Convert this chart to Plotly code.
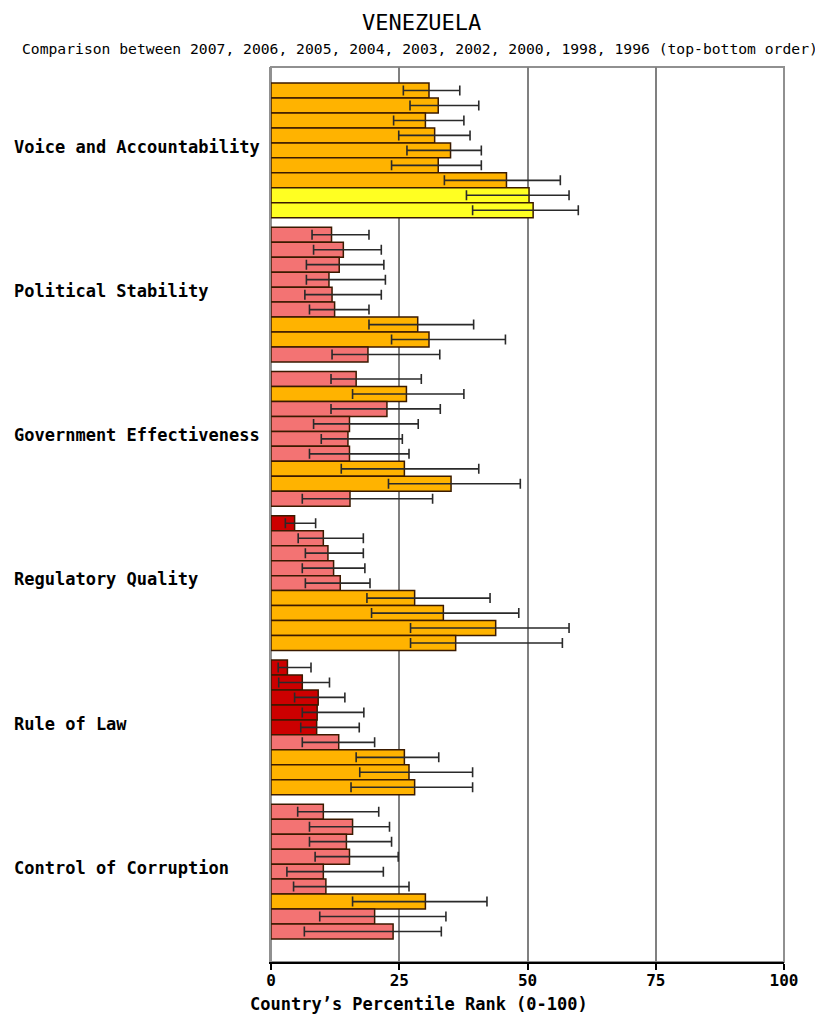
import plotly.graph_objects as go

categories = ["Voice and Accountability", "Political Stability", "Government Effectiveness",
              "Regulatory Quality", "Rule of Law", "Control of Corruption"]
years = [2007, 2006, 2005, 2004, 2003, 2002, 2000, 1998, 1996]

voice_rank = [30.8, 32.6, 30.1, 31.9, 35.0, 32.6, 45.9, 50.3, 51.1]
voice_low = [25.8, 27.1, 23.9, 24.9, 26.5, 23.5, 33.8, 38.1, 39.3]
voice_high = [36.8, 40.5, 37.6, 38.8, 41.0, 41.0, 56.4, 58.1, 59.9]

pol_rank = [11.8, 14.1, 13.3, 11.3, 11.9, 12.4, 28.6, 30.8, 18.9]
pol_low = [8.0, 8.3, 6.9, 6.9, 6.6, 7.5, 19.1, 23.5, 11.9]
pol_high = [19.1, 21.5, 22.0, 22.3, 21.5, 19.1, 39.5, 45.7, 32.9]

gov_rank = [16.6, 26.4, 22.6, 15.3, 15.0, 15.3, 26.0, 35.1, 15.4]
gov_low = [11.7, 15.9, 11.7, 8.3, 9.8, 7.5, 13.7, 22.9, 6.1]
gov_high = [29.3, 37.6, 33.0, 28.7, 25.6, 26.9, 40.5, 48.6, 31.5]

reg_rank = [4.6, 10.2, 11.1, 12.2, 13.5, 28.0, 33.6, 43.8, 36.0]
reg_low = [2.8, 5.3, 6.7, 6.1, 6.7, 18.7, 19.6, 27.2, 27.2]
reg_high = [8.7, 18.0, 18.0, 18.3, 19.3, 42.7, 48.3, 58.1, 56.8]

rol_rank = [3.2, 6.1, 9.2, 9.0, 8.9, 13.2, 26.0, 26.9, 28.0]
rol_low = [1.4, 1.5, 4.6, 6.1, 5.8, 6.1, 16.6, 17.3, 15.6]
rol_high = [7.8, 11.4, 14.4, 18.1, 17.2, 20.2, 32.7, 39.3, 39.3]

coc_rank = [10.2, 15.9, 14.7, 15.3, 10.2, 10.7, 30.1, 20.2, 23.8]
coc_low = [5.2, 7.5, 7.5, 8.6, 3.1, 4.4, 15.9, 9.5, 6.5]
coc_high = [21.0, 23.1, 23.5, 24.8, 21.9, 26.9, 42.1, 34.1, 33.2]

x_ticks = [0, 25, 50, 75, 100]

ranks = [voice_rank, pol_rank, gov_rank, reg_rank, rol_rank, coc_rank]
lows = [voice_low, pol_low, gov_low, reg_low, rol_low, coc_low]
highs = [voice_high, pol_high, gov_high, reg_high, rol_high, coc_high]

PITCH = 9.63  # group spacing in bar slots


def rank_color(v):
    if v < 10:
        return "#CC0000"
    if v < 25:
        return "#F37373"
    if v < 50:
        return "#FFB300"
    if v < 75:
        return "#FFFF22"
    return "#66CC00"


xs, ys, cols, plus, minus = [], [], [], [], []
for g, (r, lo, hi) in enumerate(zip(ranks, lows, highs)):
    for i, v in enumerate(r):
        xs.append(v)
        ys.append(g * PITCH + i)
        cols.append(rank_color(v))
        plus.append(hi[i] - v)
        minus.append(v - lo[i])

fig = go.Figure()
fig.add_trace(go.Bar(
    x=xs, y=ys, orientation="h", width=1.0,
    marker=dict(color=cols, line=dict(color="#3a1a00", width=1.5)),
    error_x=dict(type="data", symmetric=False, array=plus, arrayminus=minus,
                 color="#2a2a2a", thickness=1.6, width=5),
    hoverinfo="x",
))

mono = "DejaVu Sans Mono"
annotations = []
for g, name in enumerate(categories):
    annotations.append(dict(
        text=name, xref="paper", yref="y", x=(12 - 271) / 513, y=g * PITCH + 4 - 0.25,
        xanchor="left", yanchor="middle", showarrow=False,
        font=dict(family=mono, size=17, color="black", weight="bold")))

annotations.append(dict(
    text="VENEZUELA", xref="paper", yref="paper", x=(421 - 271) / 513, y=(962 - 22) / 895,
    xanchor="center", yanchor="middle", showarrow=False,
    font=dict(family=mono, size=22, color="black")))
annotations.append(dict(
    text="Comparison between " + ", ".join(str(y) for y in years) + " (top-bottom order)",
    xref="paper", yref="paper", x=(420 - 271) / 513, y=(962 - 48) / 895,
    xanchor="center", yanchor="middle", showarrow=False,
    font=dict(family=mono, size=14.7, color="black")))
annotations.append(dict(
    text="Country\u2019s Percentile Rank (0-100)", xref="paper", yref="paper",
    x=(248 - 271) / 513, y=(962 - 1004) / 895, xanchor="left", yanchor="middle",
    showarrow=False, font=dict(family=mono, size=17, color="black", weight="bold")))

fig.update_layout(
    width=815, height=1009,
    margin=dict(l=263, r=39, t=59, b=55, pad=0),
    paper_bgcolor="white", plot_bgcolor="white",
    showlegend=False,
    annotations=annotations,
    shapes=[dict(type="rect", xref="paper", yref="paper", x0=0, x1=1, y0=0, y1=1,
                 line=dict(color="#909090", width=2), layer="below")],
    xaxis=dict(range=[0, 100], tickvals=x_ticks, ticktext=[str(t) for t in x_ticks],
               showgrid=True, gridcolor="#808080", gridwidth=2, zeroline=False,
               showline=True, linecolor="black", linewidth=2,
               ticks="outside", ticklen=6, tickwidth=2, tickcolor="black",
               ticklabelstandoff=-3,
               tickfont=dict(family=mono, size=16, color="black", weight="bold")),
    yaxis=dict(range=[5 * PITCH + 8 + 0.5 + 23 / 15, -0.5 - 16 / 15],
               showticklabels=False, showgrid=False, zeroline=False,
               showline=True, linecolor="#909090", linewidth=2, ticks=""),
)

fig.write_html("out.html")
